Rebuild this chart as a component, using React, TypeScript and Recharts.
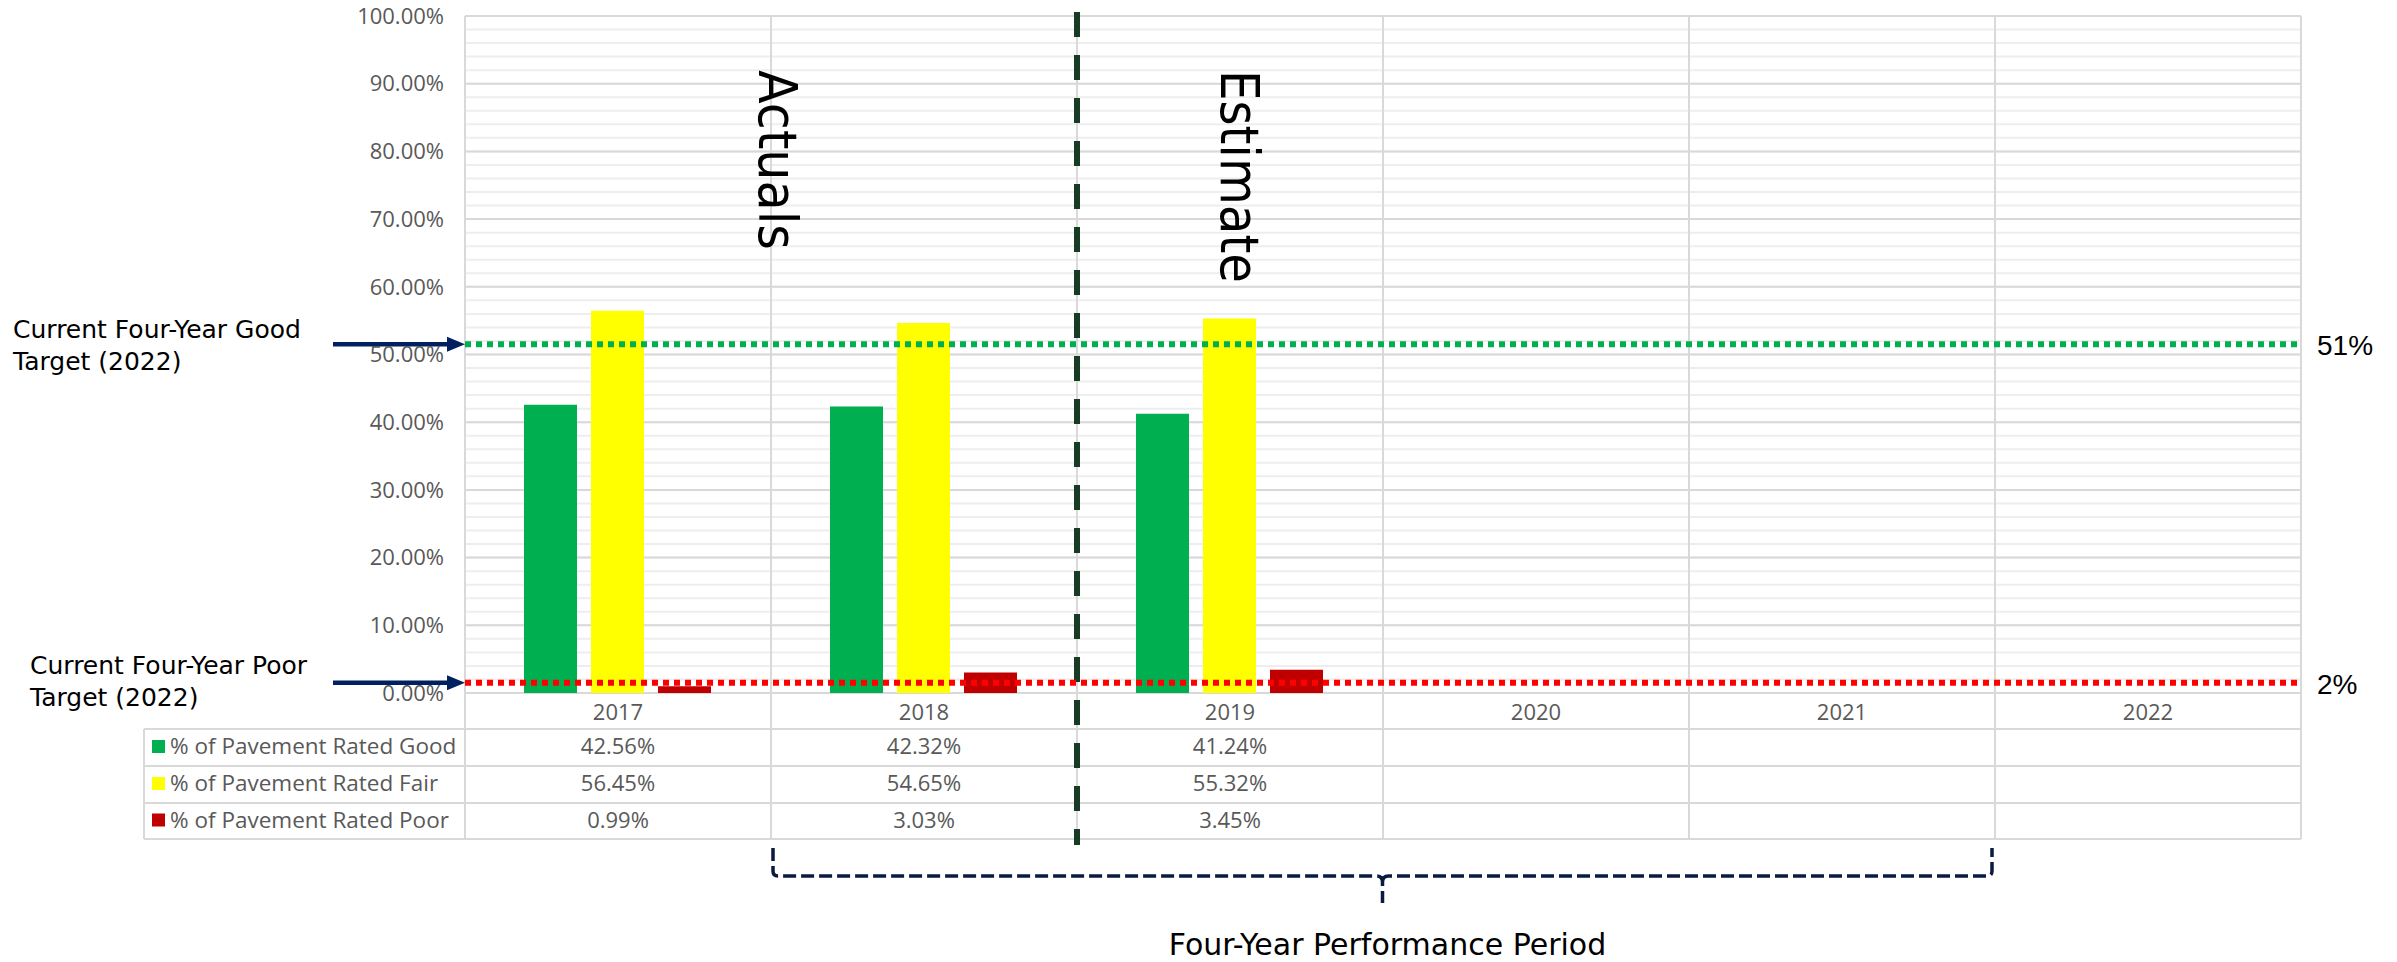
import React from "react";
import * as Recharts from "recharts";
import { Bar, CartesianGrid, ComposedChart, Customized, ReferenceLine, XAxis, YAxis } from "recharts";

// values
const YEARS = ["2017", "2018", "2019", "2020", "2021", "2022"];
const GOOD = [42.56, 42.32, 41.24, null, null, null];
const FAIR = [56.45, 54.65, 55.32, null, null, null];
const POOR = [0.99, 3.03, 3.45, null, null, null];
const ROW_LABELS = ["% of Pavement Rated Good", "% of Pavement Rated Fair", "% of Pavement Rated Poor"];
const Y_TICKS = [0, 10, 20, 30, 40, 50, 60, 70, 80, 90, 100];
const MINOR_TICKS = Array.from({ length: 51 }, (_, i) => i * 2);
const GOOD_TARGET = 51.5;
const POOR_TARGET = 1.5;
const GOOD_NOTE = ["Current Four-Year Good", "Target (2022)"];
const POOR_NOTE = ["Current Four-Year Poor", "Target (2022)"];
const GOOD_TARGET_TEXT = "51%";
const POOR_TARGET_TEXT = "2%";
const FIRST_ESTIMATE_YEAR = "2019";
const PERIOD_START = "2018";
const PERIOD_END = "2021";
const PERIOD_TEXT = "Four-Year Performance Period";

const W = 2397;
const H = 962;
const MARGIN = { top: 16, right: 96, bottom: 123, left: 365 };
const Y_AXIS_W = 100;
const ROW_H = [36, 37, 37, 36];
const TABLE_LEFT = 144;

const COLORS = { good: "#00B050", fair: "#FFFF00", poor: "#C00000" };
const SERIES_COLORS = [COLORS.good, COLORS.fair, COLORS.poor];
const GRID = "#d9d9d9";
const MINOR_GRID = "#eeeeee";
const TEXT_GRAY = "#595959";
const NAVY = "#002060";
const FONT_TICK = "'Open Sans', 'Noto Sans', sans-serif";
const FONT_NOTE = "'DejaVu Sans', Verdana, sans-serif";

const data = YEARS.map((year, i) => ({ year, good: GOOD[i], fair: FAIR[i], poor: POOR[i] }));

const usePlotAreaSafe: () => any = (Recharts as any).usePlotArea ?? (() => null);

function YTick({ x, y, payload }: any) {
  return (
    <text x={x} y={y} dy="0.35em" textAnchor="end" fill={TEXT_GRAY} fontSize={22} fontFamily={FONT_TICK}>
      {`${Number(payload.value).toFixed(2)}%`}
    </text>
  );
}

function YearTick({ x, y, payload }: any) {
  return (
    <text x={x} y={y} dy={27} textAnchor="middle" fill={TEXT_GRAY} fontSize={22} fontFamily={FONT_TICK}>
      {payload.value}
    </text>
  );
}

function makeValueTick(values: (number | null)[]) {
  return ({ x, y, payload }: any) => {
    const v = values[YEARS.indexOf(String(payload.value))];
    if (v == null) return <g />;
    return (
      <text x={x} y={y} dy={25} textAnchor="middle" fill={TEXT_GRAY} fontSize={22} fontFamily={FONT_TICK}>
        {`${v.toFixed(2)}%`}
      </text>
    );
  };
}

// minor gridlines every 2%, placed through the y axis scale
function minorLines({ yAxis, offset }: any) {
  const scale = yAxis?.scale;
  if (typeof scale === "function") return MINOR_TICKS.map((t) => scale(t));
  const top = offset?.top ?? MARGIN.top;
  const h = offset?.height ?? 677;
  return MINOR_TICKS.map((t) => top + h - (t / 100) * h);
}

function TargetNote({ viewBox, lines, text, textX, up, down }: any) {
  if (!viewBox) return null;
  const { x, y, width } = viewBox;
  return (
    <g>
      <text x={textX} y={y - up} fontSize={25} fontFamily={FONT_NOTE} fill="#000">
        {lines[0]}
      </text>
      <text x={textX} y={y + down} fontSize={25} fontFamily={FONT_NOTE} fill="#000">
        {lines[1]}
      </text>
      <line x1={x - 132} y1={y} x2={x - 14} y2={y} stroke={NAVY} strokeWidth={4.5} />
      <path d={`M${x - 18},${y - 7.5} L${x},${y} L${x - 18},${y + 7.5} Z`} fill={NAVY} />
      <text x={x + width + 16} y={y + 11} fontSize={28} fontFamily="'Liberation Sans', Arial, sans-serif" fill="#000">
        {text}
      </text>
    </g>
  );
}

function TableAndNotes() {
  const area = usePlotAreaSafe();
  const left = area?.x ?? MARGIN.left + Y_AXIS_W;
  const top = area?.y ?? MARGIN.top;
  const width = area?.width ?? W - MARGIN.left - Y_AXIS_W - MARGIN.right;
  const height = area?.height ?? H - MARGIN.top - MARGIN.bottom - ROW_H.reduce((a, b) => a + b, 0);
  const bottom = top + height;
  const right = left + width;
  const bw = width / YEARS.length;
  const rowTops = ROW_H.reduce<number[]>((acc, h) => [...acc, acc[acc.length - 1] + h], [bottom]);
  const tableBottom = rowTops[rowTops.length - 1];

  const dividerX = left + YEARS.indexOf(FIRST_ESTIMATE_YEAR) * bw;
  const bl = left + YEARS.indexOf(PERIOD_START) * bw + 2;
  const br = left + (YEARS.indexOf(PERIOD_END) + 1) * bw - 3;
  const bc = (bl + br) / 2;
  const by = 876;

  return (
    <g>
      {YEARS.map((_, i) => (
        <line key={`v${i}`} x1={left + i * bw} x2={left + i * bw} y1={top} y2={tableBottom} stroke={GRID} strokeWidth={2} />
      ))}
      <line x1={right} x2={right} y1={top} y2={tableBottom} stroke={GRID} strokeWidth={2} />
      {rowTops.slice(1).map((ry, i) => (
        <line key={`h${i}`} x1={TABLE_LEFT} x2={right} y1={ry} y2={ry} stroke={GRID} strokeWidth={2} />
      ))}
      <line x1={TABLE_LEFT} x2={TABLE_LEFT} y1={rowTops[1]} y2={tableBottom} stroke={GRID} strokeWidth={2} />
      {ROW_LABELS.map((label, i) => {
        const ry = rowTops[i + 1];
        const h = ROW_H[i + 1];
        return (
          <g key={label}>
            <rect x={152} y={ry + h / 2 - 7.5} width={13} height={13} fill={SERIES_COLORS[i]} />
            <text x={170} y={ry + 25} fill={TEXT_GRAY} fontSize={22.5} fontFamily={FONT_TICK}>
              {label}
            </text>
          </g>
        );
      })}

      <line x1={dividerX} x2={dividerX} y1={12} y2={845} stroke="#173b25" strokeWidth={6} strokeDasharray="25 18" />

      <text transform="translate(759,70) rotate(90)" fontSize={54} fontFamily={FONT_NOTE} fill="#000" textLength={180} lengthAdjust="spacingAndGlyphs">
        Actuals
      </text>
      <text transform="translate(1221,70) rotate(90)" fontSize={54} fontFamily={FONT_NOTE} fill="#000" textLength={213} lengthAdjust="spacingAndGlyphs">
        Estimate
      </text>

      <path
        d={`M${bl},848 L${bl},${by - 5} Q${bl},${by} ${bl + 5},${by} L${bc - 6},${by} Q${bc},${by} ${bc},${by + 6} L${bc},903 M${bc},${by + 6} Q${bc},${by} ${bc + 6},${by} L${br - 5},${by} Q${br},${by} ${br},${by - 5} L${br},848`}
        fill="none"
        stroke="#0b1a3f"
        strokeWidth={3.5}
        strokeDasharray="13 5"
      />
      <text x={bc + 5} y={955} textAnchor="middle" fontSize={30} fontFamily={FONT_NOTE} fill="#000">
        {PERIOD_TEXT}
      </text>
    </g>
  );
}

export default function App() {
  // bottom axes are stacked in id order, so ids are prefixed to keep the table rows in order
  return (
    <div style={{ position: "absolute", left: 0, top: 0, width: W, height: H, background: "#fff" }}>
      <ComposedChart width={W} height={H} data={data} margin={MARGIN} barCategoryGap={59} barGap={14}>
        <YAxis
          domain={[0, 100]}
          ticks={Y_TICKS}
          interval={0}
          width={Y_AXIS_W}
          axisLine={false}
          tickLine={false}
          tickSize={0}
          tickMargin={21}
          tick={(p: any) => <YTick {...p} />}
        />
        <XAxis xAxisId="a_year" dataKey="year" height={ROW_H[0]} interval={0} axisLine={false} tickLine={false} tickSize={0} tickMargin={0} tick={(p: any) => <YearTick {...p} />} />
        <XAxis xAxisId="b_good" dataKey="year" height={ROW_H[1]} interval={0} axisLine={false} tickLine={false} tickSize={0} tickMargin={0} tick={makeValueTick(GOOD)} />
        <XAxis xAxisId="c_fair" dataKey="year" height={ROW_H[2]} interval={0} axisLine={false} tickLine={false} tickSize={0} tickMargin={0} tick={makeValueTick(FAIR)} />
        <XAxis xAxisId="d_poor" dataKey="year" height={ROW_H[3]} interval={0} axisLine={false} tickLine={false} tickSize={0} tickMargin={0} tick={makeValueTick(POOR)} />

        <CartesianGrid xAxisId="a_year" vertical={false} stroke={MINOR_GRID} strokeWidth={2} horizontalCoordinatesGenerator={minorLines} />
        <CartesianGrid xAxisId="a_year" vertical={false} stroke={GRID} strokeWidth={2} />
        <Customized component={<TableAndNotes />} />

        <Bar xAxisId="a_year" dataKey="good" fill={COLORS.good} isAnimationActive={false} />
        <Bar xAxisId="a_year" dataKey="fair" fill={COLORS.fair} isAnimationActive={false} />
        <Bar xAxisId="a_year" dataKey="poor" fill={COLORS.poor} isAnimationActive={false} />

        <ReferenceLine
          xAxisId="a_year"
          y={GOOD_TARGET}
          stroke="#00B050"
          strokeWidth={6}
          strokeDasharray="6 5"
          label={<TargetNote lines={GOOD_NOTE} text={GOOD_TARGET_TEXT} textX={13} up={6} down={26} />}
        />
        <ReferenceLine
          xAxisId="a_year"
          y={POOR_TARGET}
          stroke="#FF0000"
          strokeWidth={6}
          strokeDasharray="6 5"
          label={<TargetNote lines={POOR_NOTE} text={POOR_TARGET_TEXT} textX={30} up={9} down={23} />}
        />
      </ComposedChart>
    </div>
  );
}
